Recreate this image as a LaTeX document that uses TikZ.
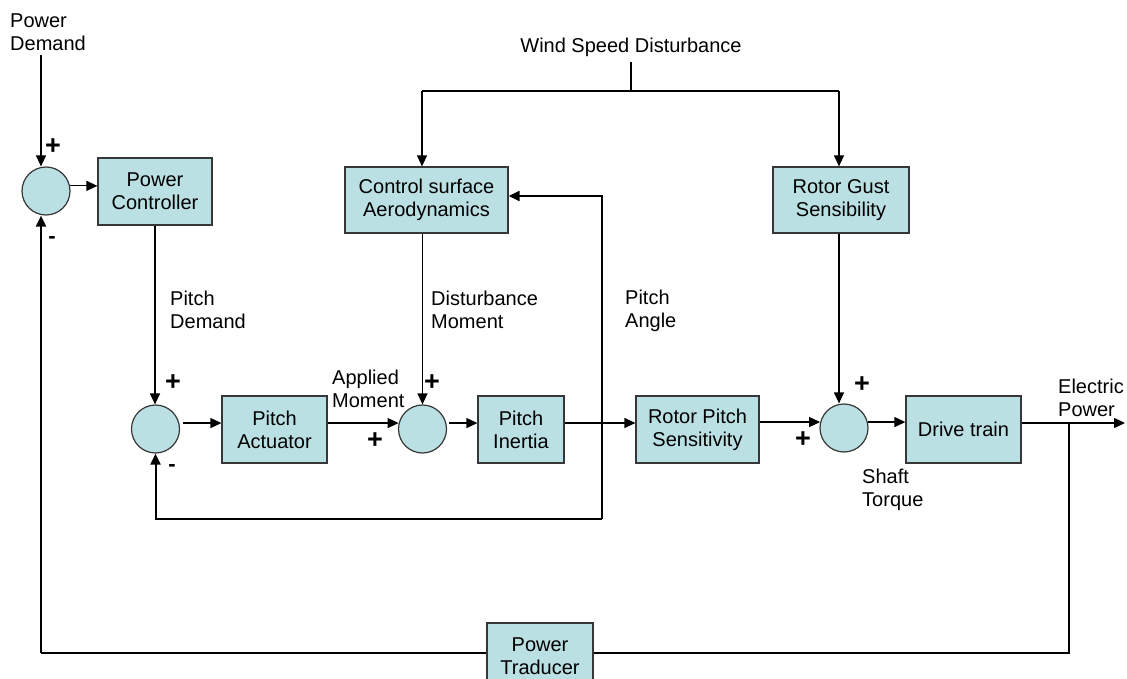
\documentclass[tikz,border=0pt]{standalone}
\usepackage{fontspec}
\setmainfont{Liberation Sans}
\usetikzlibrary{arrows.meta}
\definecolor{boxfill}{RGB}{187,224,227}
\definecolor{boxline}{RGB}{55,55,55}
\begin{document}
\begin{tikzpicture}[x=1pt,y=-1pt,
  font=\fontsize{20}{23}\selectfont,
  blk/.style={draw=boxline, line width=1.2pt, fill=boxfill, align=center, inner sep=0pt},
  sumc/.style={circle, draw=boxline, line width=1.2pt, fill=boxfill, minimum size=48pt, inner sep=0pt},
  lbl/.style={align=left, inner sep=0pt, anchor=west},
  sgn/.style={inner sep=0pt, font=\fontsize{27}{27}\selectfont\bfseries},
  sgnm/.style={inner sep=0pt, font=\fontsize{22}{22}\selectfont\bfseries},
  sig/.style={line width=1.2pt},
  arr/.style={sig, -{Triangle[length=11pt,width=10pt]}},
  fbk/.style={line width=2pt},
  fbkarr/.style={line width=2pt, -{Triangle[length=11pt,width=10pt]}}
]
\useasboundingbox (0,0) rectangle (1127,679);

% blocks
\node[blk, minimum width=114pt, minimum height=67pt] (pc) at (155,191.5) {Power\\Controller};
\node[blk, minimum width=163pt, minimum height=66pt] (csa) at (426.5,200) {Control surface\\Aerodynamics};
\node[blk, minimum width=136pt, minimum height=66pt] (rg) at (841,200) {Rotor Gust\\Sensibility};
\node[blk, minimum width=105pt, minimum height=67pt] (pa) at (274.5,429.5) {Pitch\\Actuator};
\node[blk, minimum width=86pt, minimum height=67pt] (pi) at (521,429.5) {Pitch\\Inertia};
\node[blk, minimum width=123pt, minimum height=67pt] (rps) at (697.5,429.5) {Rotor Pitch\\Sensitivity};
\node[blk, minimum width=115pt, minimum height=67pt] (dt) at (963.5,429.5) {Drive train};
\node[blk, minimum width=106pt, minimum height=67pt] (tr) at (540,656.5) {Power\\Traducer};

% summing junctions
\node[sumc] (s1) at (46,191) {};
\node[sumc] (s2) at (155.5,429) {};
\node[sumc] (s3) at (422.5,429) {};
\node[sumc] (s4) at (844,428) {};

% labels
\node[lbl] (lpd) at (10,32) {Power\\Demand};
\node[inner sep=0pt] (ws) at (631,47) {Wind Speed Disturbance};
\node[lbl] (lpdem) at (170,310) {Pitch\\Demand};
\node[lbl] (ldm) at (431,310) {Disturbance\\Moment};
\node[lbl] (lpa) at (625,311) {Pitch\\Angle};
\node[lbl] (lam) at (332,389) {Applied\\Moment};
\node[lbl] (lst) at (862,490) {Shaft\\Torque};
\node[lbl] (lep) at (1058,398) {Electric\\Power};

% signs
\node[sgn] (p1) at (53,147) {+};
\node[sgnm] (m1) at (52,240) {-};
\node[sgn] (p2) at (173,383) {+};
\node[sgnm] (m2) at (172,468) {-};
\node[sgn] (p3a) at (375,441) {+};
\node[sgn] (p3b) at (432,383) {+};
\node[sgn] (p4a) at (862,385) {+};
\node[sgn] (p4b) at (803,440) {+};

% coordinates
\coordinate (pdtop) at (41,55);
\coordinate (s1t) at ([xshift=-5pt]s1.north);
\coordinate (s1b) at ([xshift=-5pt]s1.south);
\coordinate (s4t) at ([xshift=-5pt]s4.north);
\coordinate (j) at (602,423);
\coordinate (fb) at (602,519);
\coordinate (e) at (1069,423);
\coordinate (out) at (1125,423);
\coordinate (bl) at (1069,653);
\coordinate (br) at (41,653);
\coordinate (wj) at (631,91);
\coordinate (wl) at (422,91);
\coordinate (wr) at (839,91);

% connectors
\draw[arr] (pdtop) -- (s1t);
\draw[arr] (s1.12) -- (s1.12 -| pc.west);
\draw[arr] (pc.south) -- (pc.south |- s2.north);
\draw[arr, shorten <=4pt] (s2.14) -- (s2.14 -| pa.west);
\draw[arr] (s3.166 -| pa.east) -- (s3.166);
\draw[arr] (csa.south -| s3.north) -- (s3.north);
\draw[arr, shorten <=3pt] (s3.14) -- (s3.14 -| pi.west);
\draw[sig] (pi.east |- j) -- (j);
\draw[arr] (j) -- (rps.west |- j);
\draw[fbkarr] (j) |- ([yshift=4pt]csa.east);
\draw[fbk] (j) -- (fb);
\draw[fbkarr] (fb) -| (s2.south);
\draw[arr] (rps.east |- s4.166) -- (s4.166);
\draw[arr] (rg.south -| s4t) -- (s4t);
\draw[arr] (s4.14) -- (s4.14 -| dt.west);
\draw[arr] (dt.east |- out) -- (out);
\draw[fbk] (e) -- (bl) -- (tr.east |- bl);
\draw[fbk] (tr.west |- br) -- (br);
\draw[fbkarr] (br) -- (s1b);
\draw[fbk] ([yshift=-5pt]ws.south) -- (wj);
\draw[fbk] (wl) -- (wr);
\draw[arr] (wl) -- (wl |- csa.north);
\draw[arr] (wr) -- (wr |- rg.north);
\end{tikzpicture}
\end{document}
